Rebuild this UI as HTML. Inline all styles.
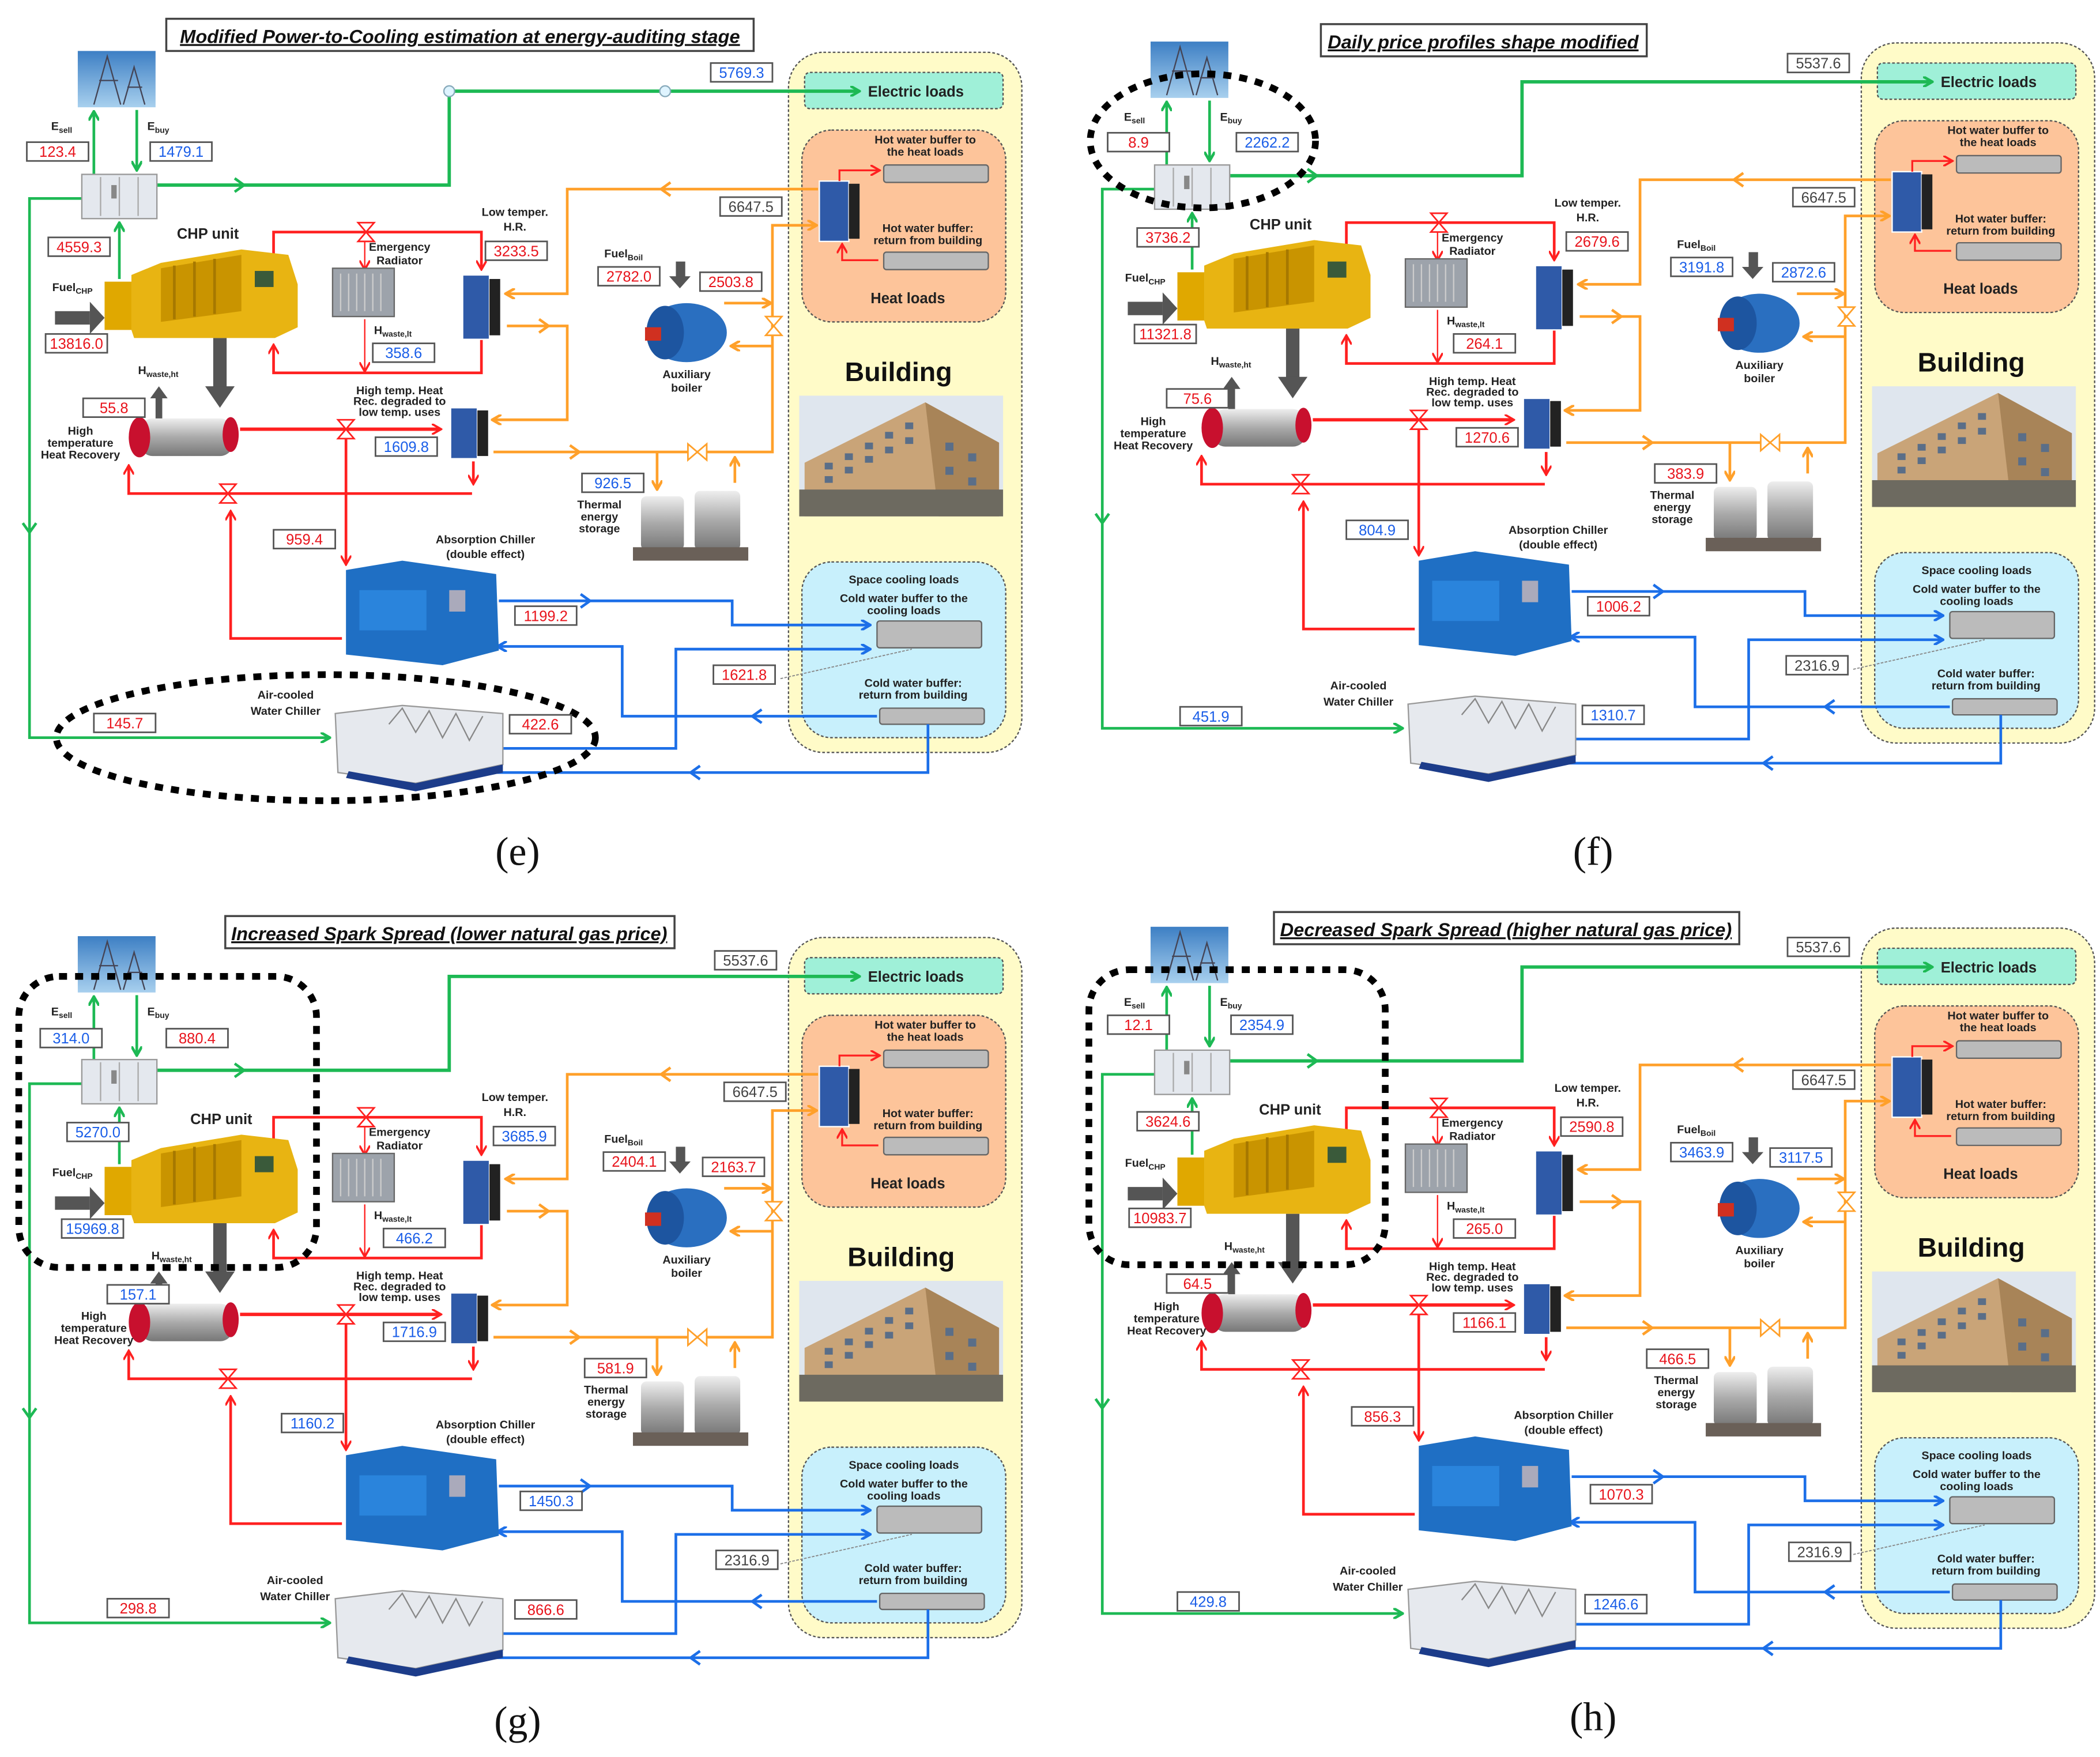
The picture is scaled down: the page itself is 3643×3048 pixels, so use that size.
<!DOCTYPE html>
<html><head><meta charset="utf-8"><style>
html,body{margin:0;padding:0;background:#fff}
svg{display:block}
text{font-family:"Liberation Sans",sans-serif}
.l{font-size:8.5px;font-weight:bold;fill:#222;text-anchor:middle}
.m{font-size:11px;font-weight:bold;fill:#222;text-anchor:middle}
.v{font-size:11px;text-anchor:middle}
.r{fill:#e8141c}.b{fill:#1a5ee8}.k{fill:#444}
.vb{fill:#fff;stroke:#555;stroke-width:1.2}
.t{font-size:14px;font-weight:bold;font-style:italic;text-decoration:underline;fill:#111;text-anchor:middle}
.cap{font-family:"Liberation Serif",serif;font-size:30px;text-anchor:middle;fill:#111}
</style></head><body>
<svg width="3643" height="3048" viewBox="0 0 1566 1310" preserveAspectRatio="none" xmlns="http://www.w3.org/2000/svg">
<defs>
<marker id="ag" markerWidth="8" markerHeight="8" refX="6" refY="4" orient="auto" markerUnits="userSpaceOnUse"><path d="M0,0 L7,4 L0,8" fill="none" stroke="#1db954" stroke-width="2"/></marker>
<marker id="ar" markerWidth="8" markerHeight="8" refX="6" refY="4" orient="auto" markerUnits="userSpaceOnUse"><path d="M0,0 L7,4 L0,8" fill="none" stroke="#ff2020" stroke-width="1.6"/></marker>
<marker id="ao" markerWidth="8" markerHeight="8" refX="6" refY="4" orient="auto" markerUnits="userSpaceOnUse"><path d="M0,0 L7,4 L0,8" fill="none" stroke="#ffa02a" stroke-width="2"/></marker>
<marker id="ab" markerWidth="8" markerHeight="8" refX="6" refY="4" orient="auto" markerUnits="userSpaceOnUse"><path d="M0,0 L7,4 L0,8" fill="none" stroke="#1c6fe8" stroke-width="2"/></marker>
<linearGradient id="sky" x1="0" y1="0" x2="0" y2="1"><stop offset="0" stop-color="#3d7fc4"/><stop offset="1" stop-color="#a8d0ee"/></linearGradient>
<linearGradient id="cyl" x1="0" y1="0" x2="0" y2="1"><stop offset="0" stop-color="#eee"/><stop offset="0.5" stop-color="#aaa"/><stop offset="1" stop-color="#777"/></linearGradient>
<g id="base">
 <!-- building container -->
 <rect x="588" y="39" width="174" height="522" rx="26" fill="#fffbc8" stroke="#555" stroke-width="1" stroke-dasharray="2,1.5"/>
 <rect x="600" y="54" width="148" height="27" rx="4" fill="#9ff0d8" stroke="#555" stroke-dasharray="2,1.5"/>
 <rect x="598" y="97" width="152" height="143" rx="22" fill="#fdc49a" stroke="#555" stroke-dasharray="2,1.5"/>
 <rect x="598" y="419" width="152" height="131" rx="22" fill="#c8f0fc" stroke="#555" stroke-dasharray="2,1.5"/>
 <rect x="659" y="123" width="78" height="13" rx="2" fill="#bbb" stroke="#666"/>
 <rect x="659" y="188" width="78" height="13" rx="2" fill="#bbb" stroke="#666"/>
 <rect x="654" y="463" width="78" height="20" rx="2" fill="#bbb" stroke="#666"/>
 <rect x="656" y="528" width="78" height="12" rx="2" fill="#bbb" stroke="#666"/>
 <!-- building photo -->
 <rect x="596" y="295" width="152" height="90" fill="#dfe6ee"/>
 <polygon points="600,345 690,300 745,330 745,385 600,385" fill="#c9a478"/>
 <polygon points="690,300 745,330 745,385 700,385" fill="#a88458"/>
 <rect x="596" y="365" width="152" height="20" fill="#6d6a60"/>
 <g fill="#5a6e88"><rect x="615" y="345" width="6" height="5"/><rect x="630" y="338" width="6" height="5"/><rect x="645" y="330" width="6" height="5"/><rect x="660" y="322" width="6" height="5"/><rect x="675" y="315" width="6" height="5"/><rect x="615" y="355" width="6" height="5"/><rect x="630" y="348" width="6" height="5"/><rect x="645" y="340" width="6" height="5"/><rect x="660" y="333" width="6" height="5"/><rect x="675" y="326" width="6" height="5"/><rect x="705" y="330" width="6" height="6"/><rect x="722" y="338" width="6" height="6"/><rect x="705" y="348" width="6" height="6"/><rect x="722" y="356" width="6" height="6"/></g>
 <!-- heat loads HX -->
 <rect x="611" y="135" width="22" height="45" fill="#2f5aa8" stroke="#fff"/><rect x="633" y="137" width="8" height="41" fill="#222"/>
 <path d="M626,135 V127 H655" fill="none" stroke="#ff2020" stroke-width="1.4" marker-end="url(#ar)"/>
 <path d="M655,194 H628 V183" fill="none" stroke="#ff2020" stroke-width="1.4" marker-end="url(#ar)"/>
 <!-- green -->
 <g fill="none" stroke="#1db954" stroke-width="2">
  <path d="M70,130 V84" marker-end="url(#ag)"/>
  <path d="M102,82 V126" marker-end="url(#ag)"/>
  <path d="M117,138 H335 V68 H640" stroke-width="2.5" marker-end="url(#ag)"/>
  <path d="M61,148 H22 V550 H245" marker-end="url(#ag)"/>
  <path d="M89,208 V167" marker-end="url(#ag)"/>
  <path d="M175,133 L182,138 L175,143"/><path d="M17,390 L22,397 L27,390"/>
 </g>
 <!-- pylon & cabinet -->
 <rect x="58" y="38" width="58" height="42" fill="url(#sky)"/>
 <path d="M70,78 L80,42 L90,78 M74,60 H88 M92,78 L100,50 L108,78 M95,65 H106" stroke="#445" stroke-width="1" fill="none"/>
 <rect x="61" y="130" width="56" height="33" fill="#e4e8ee" stroke="#999"/>
 <path d="M75,132 V161 M89,132 V161 M103,132 V161" stroke="#aaa"/>
 <rect x="83" y="138" width="4" height="10" fill="#888"/>
 <!-- red loops -->
 <g fill="none" stroke="#ff2020" stroke-width="2">
  <path d="M204,250 V173 H359 V200" marker-end="url(#ar)"/>
  <path d="M359,252 V278 H204 V258" marker-end="url(#ar)"/>
  <path d="M272,180 V200" stroke-width="1" marker-end="url(#ar)"/>
  <path d="M272,238 V276" stroke-width="1" marker-end="url(#ar)"/>
  <path d="M179,320 H328" stroke-width="2.5" marker-end="url(#ar)"/>
  <path d="M258,320 V420" marker-end="url(#ar)"/>
  <path d="M353,344 V360" marker-end="url(#ar)"/>
  <path d="M352,368 H96 V348" marker-end="url(#ar)"/>
  <path d="M255,476 H172 V382" marker-end="url(#ar)"/>
 </g>
 <!-- orange -->
 <g fill="none" stroke="#ffa02a" stroke-width="2">
  <path d="M610,141 H423 V219 H378" marker-end="url(#ao)"/>
  <path d="M378,243 H423 V313 H368" marker-end="url(#ao)"/>
  <path d="M368,337 H576 V168 H608" marker-end="url(#ao)"/>
  <path d="M490,337 V364" marker-end="url(#ao)"/>
  <path d="M548,360 V342" marker-end="url(#ao)"/>
  <path d="M540,226 H574" marker-end="url(#ao)"/>
  <path d="M576,258 H546" marker-end="url(#ao)"/>
  <path d="M500,136 L493,141 L500,146 M402,238 L409,243 L402,248 M425,332 L432,337 L425,342"/>
 </g>
 <!-- blue -->
 <g fill="none" stroke="#1c6fe8" stroke-width="2">
  <path d="M372,448 H546 V466 H648" marker-end="url(#ab)"/>
  <path d="M375,558 H504 V484 H648" marker-end="url(#ab)"/>
  <path d="M654,534 H464 V482 H372" marker-end="url(#ab)"/>
  <path d="M692,540 V576 H352"/>
  <path d="M433,443 L440,448 L433,453 M568,529 L561,534 L568,539 M522,571 L515,576 L522,581"/>
 </g>
 <path d="M582,506 L680,484" stroke="#888" stroke-width="0.8" stroke-dasharray="2,1"/>
 <!-- valves -->
 <g fill="#fff" stroke="#ff2020" stroke-width="1.2">
  <path d="M267,166 H279 L267,180 H279 Z"/><path d="M252,313 H264 L252,327 H264 Z"/><path d="M164,361 H176 L164,375 H176 Z"/>
 </g>
 <g fill="#fff" stroke="#ffa02a" stroke-width="1.2">
  <path d="M513,331 V343 L527,331 V343 Z"/><path d="M571,236 H583 L571,250 H583 Z"/>
 </g>
 <!-- grey arrows -->
 <g fill="#555">
  <rect x="41" y="232" width="26" height="10"/><polygon points="67,225 78,237 67,249"/>
  <rect x="159" y="252" width="10" height="38"/><polygon points="153,288 164,304 175,288"/>
  <rect x="504" y="195" width="7" height="12"/><polygon points="499,206 507,215 515,206"/>
  <rect x="116" y="296" width="5" height="16"/><polygon points="112,297 118.5,288 125,297"/>
 </g>
 <!-- CHP engine -->
 <rect x="78" y="210" width="20" height="36" fill="#e0a800"/>
 <path d="M98,246 V205 L120,196 L180,186 L215,190 L222,212 L222,244 L205,252 L100,252 Z" fill="#e8b412"/>
 <path d="M120,200 L180,190 L180,232 L120,240 Z" fill="#c99400"/>
 <rect x="190" y="202" width="14" height="12" fill="#3a5a3a"/>
 <path d="M130,198 V238 M145,195 V236 M160,193 V234" stroke="#a67800" stroke-width="2"/>
 <!-- radiator -->
 <rect x="248" y="200" width="46" height="36" fill="#9da3ab" stroke="#666"/>
 <path d="M254,204 V232 M260,204 V232 M266,204 V232 M272,204 V232 M278,204 V232 M284,204 V232" stroke="#ccc"/>
 <!-- HX upper / lower -->
 <rect x="345" y="205" width="20" height="48" fill="#2f5aa8" stroke="#fff"/><rect x="365" y="208" width="8" height="42" fill="#222"/>
 <rect x="336" y="304" width="20" height="38" fill="#2f5aa8" stroke="#fff"/><rect x="356" y="306" width="8" height="34" fill="#222"/>
 <!-- boiler -->
 <ellipse cx="512" cy="248" rx="30" ry="22" fill="#2a6fc0"/><ellipse cx="496" cy="248" rx="14" ry="20" fill="#1d55a0"/>
 <rect x="481" y="244" width="12" height="10" fill="#d03020"/>
 <!-- HT HR -->
 <rect x="104" y="312" width="70" height="28" rx="10" fill="url(#cyl)"/>
 <ellipse cx="104" cy="326" rx="8" ry="15" fill="#c8102e"/><ellipse cx="172" cy="324" rx="6" ry="13" fill="#c8102e"/>
 <!-- storage tanks -->
 <rect x="478" y="370" width="32" height="40" rx="4" fill="url(#cyl)"/><rect x="518" y="366" width="34" height="44" rx="4" fill="url(#cyl)"/>
 <rect x="472" y="408" width="86" height="10" fill="#6a6058"/>
 <!-- absorption chiller -->
 <path d="M258,425 L300,418 L370,428 L372,485 L330,496 L258,488 Z" fill="#1f6fc4"/>
 <rect x="268" y="440" width="50" height="30" fill="#2a84dc"/><rect x="335" y="440" width="12" height="16" fill="#aab"/>
 <!-- air chiller -->
 <path d="M250,532 L300,526 L375,532 L375,570 L310,584 L252,576 Z" fill="#e6e9ee" stroke="#999"/>
 <path d="M290,540 L300,528 L310,546 L320,530 L330,550 L340,532 L350,552 L360,534" stroke="#888" fill="none"/>
 <path d="M260,575 L310,584 L375,570 L375,576 L310,590 L258,580 Z" fill="#1c3c8a"/>
</g>
<g id="box"><rect width="46" height="14" class="vb"/></g>
</defs>

<!-- ========== PANEL E ========== -->
<g transform="translate(0,0)">
<use href="#base"/>
<circle cx="335" cy="68" r="4" fill="#dff4ff" stroke="#8ab"/><circle cx="496" cy="68" r="4" fill="#dff4ff" stroke="#8ab"/>
<rect x="124" y="14" width="438" height="24" fill="#fff" stroke="#444" stroke-width="1.5"/>
<text x="343" y="32" class="t">Modified Power-to-Cooling estimation at energy-auditing stage</text>
<ellipse cx="243" cy="550" rx="201" ry="47" fill="none" stroke="#000" stroke-width="5" stroke-dasharray="6,6"/>
<text class="l" x="46" y="97">E<tspan font-size="6" dy="2">sell</tspan></text><text class="l" x="118" y="97">E<tspan font-size="6" dy="2">buy</tspan></text>
<text class="m" x="155" y="178">CHP unit</text>
<text class="l" x="54" y="217" font-size="10">Fuel<tspan font-size="6" dy="2">CHP</tspan></text>
<text class="l" x="298" y="187">Emergency</text><text class="l" x="298" y="197">Radiator</text>
<text class="l" x="384" y="161">Low temper.</text><text class="l" x="384" y="172">H.R.</text>
<text class="l" x="293" y="249">H<tspan font-size="6" dy="2">waste,lt</tspan></text>
<text class="l" x="465" y="192" font-size="10">Fuel<tspan font-size="6" dy="2">Boil</tspan></text>
<text class="l" x="512" y="282">Auxiliary</text><text class="l" x="512" y="292">boiler</text>
<text class="l" x="298" y="294">High temp. Heat</text><text class="l" x="298" y="302">Rec. degraded to</text><text class="l" x="298" y="310">low temp. uses</text>
<text class="l" x="118" y="279">H<tspan font-size="6" dy="2">waste,ht</tspan></text>
<text class="l" x="60" y="324">High</text><text class="l" x="60" y="333">temperature</text><text class="l" x="60" y="342">Heat Recovery</text>
<text class="l" x="362" y="405" font-size="9.5">Absorption Chiller</text><text class="l" x="362" y="416">(double effect)</text>
<text class="l" x="447" y="379">Thermal</text><text class="l" x="447" y="388">energy</text><text class="l" x="447" y="397">storage</text>
<text class="l" x="213" y="521">Air-cooled</text><text class="l" x="213" y="533">Water Chiller</text>
<text class="m" x="683" y="72">Electric loads</text>
<text class="l" x="690" y="107">Hot water buffer to</text><text class="l" x="690" y="116">the heat loads</text>
<text class="l" x="692" y="173">Hot water buffer:</text><text class="l" x="692" y="182">return from building</text>
<text class="m" x="677" y="226">Heat loads</text>
<text x="670" y="284" font-size="20" font-weight="bold" text-anchor="middle" fill="#111">Building</text>
<text class="l" x="674" y="435" font-size="10">Space cooling loads</text>
<text class="l" x="674" y="449">Cold water buffer to the</text><text class="l" x="674" y="458">cooling loads</text>
<text class="l" x="681" y="512">Cold water buffer:</text><text class="l" x="681" y="521">return from building</text>
<use href="#box" x="20" y="106"/><text class="v r" x="43" y="117">123.4</text>
<use href="#box" x="112" y="106"/><text class="v b" x="135" y="117">1479.1</text>
<use href="#box" x="530" y="47"/><text class="v b" x="553" y="58">5769.3</text>
<use href="#box" x="36" y="177"/><text class="v r" x="59" y="188">4559.3</text>
<use href="#box" x="34" y="249"/><text class="v r" x="57" y="260">13816.0</text>
<use href="#box" x="362" y="180"/><text class="v r" x="385" y="191">3233.5</text>
<use href="#box" x="278" y="256"/><text class="v b" x="301" y="267">358.6</text>
<use href="#box" x="446" y="199"/><text class="v r" x="469" y="210">2782.0</text>
<use href="#box" x="522" y="203"/><text class="v r" x="545" y="214">2503.8</text>
<use href="#box" x="537" y="147"/><text class="v k" x="560" y="158">6647.5</text>
<use href="#box" x="62" y="297"/><text class="v r" x="85" y="308">55.8</text>
<use href="#box" x="280" y="326"/><text class="v b" x="303" y="337">1609.8</text>
<use href="#box" x="434" y="353"/><text class="v b" x="457" y="364">926.5</text>
<use href="#box" x="204" y="395"/><text class="v r" x="227" y="406">959.4</text>
<use href="#box" x="384" y="452"/><text class="v r" x="407" y="463">1199.2</text>
<use href="#box" x="532" y="496"/><text class="v r" x="555" y="507">1621.8</text>
<use href="#box" x="70" y="532"/><text class="v r" x="93" y="543">145.7</text>
<use href="#box" x="380" y="533"/><text class="v r" x="403" y="544">422.6</text>
</g>
<text class="cap" x="386" y="645">(e)</text>

<!-- ========== PANEL F ========== -->
<g transform="translate(800,-7)">
<use href="#base"/>
<rect x="185" y="25" width="243" height="24" fill="#fff" stroke="#444" stroke-width="1.5"/>
<text x="306" y="43" class="t">Daily price profiles shape modified</text>
<ellipse cx="97" cy="112" rx="84" ry="50" fill="none" stroke="#000" stroke-width="5" stroke-dasharray="6,6"/>
<text class="l" x="46" y="97">E<tspan font-size="6" dy="2">sell</tspan></text><text class="l" x="118" y="97">E<tspan font-size="6" dy="2">buy</tspan></text>
<text class="m" x="155" y="178">CHP unit</text>
<text class="l" x="54" y="217" font-size="10">Fuel<tspan font-size="6" dy="2">CHP</tspan></text>
<text class="l" x="298" y="187">Emergency</text><text class="l" x="298" y="197">Radiator</text>
<text class="l" x="384" y="161">Low temper.</text><text class="l" x="384" y="172">H.R.</text>
<text class="l" x="293" y="249">H<tspan font-size="6" dy="2">waste,lt</tspan></text>
<text class="l" x="465" y="192" font-size="10">Fuel<tspan font-size="6" dy="2">Boil</tspan></text>
<text class="l" x="512" y="282">Auxiliary</text><text class="l" x="512" y="292">boiler</text>
<text class="l" x="298" y="294">High temp. Heat</text><text class="l" x="298" y="302">Rec. degraded to</text><text class="l" x="298" y="310">low temp. uses</text>
<text class="l" x="118" y="279">H<tspan font-size="6" dy="2">waste,ht</tspan></text>
<text class="l" x="60" y="324">High</text><text class="l" x="60" y="333">temperature</text><text class="l" x="60" y="342">Heat Recovery</text>
<text class="l" x="362" y="405" font-size="9.5">Absorption Chiller</text><text class="l" x="362" y="416">(double effect)</text>
<text class="l" x="447" y="379">Thermal</text><text class="l" x="447" y="388">energy</text><text class="l" x="447" y="397">storage</text>
<text class="l" x="213" y="521">Air-cooled</text><text class="l" x="213" y="533">Water Chiller</text>
<text class="m" x="683" y="72">Electric loads</text>
<text class="l" x="690" y="107">Hot water buffer to</text><text class="l" x="690" y="116">the heat loads</text>
<text class="l" x="692" y="173">Hot water buffer:</text><text class="l" x="692" y="182">return from building</text>
<text class="m" x="677" y="226">Heat loads</text>
<text x="670" y="284" font-size="20" font-weight="bold" text-anchor="middle" fill="#111">Building</text>
<text class="l" x="674" y="435" font-size="10">Space cooling loads</text>
<text class="l" x="674" y="449">Cold water buffer to the</text><text class="l" x="674" y="458">cooling loads</text>
<text class="l" x="681" y="512">Cold water buffer:</text><text class="l" x="681" y="521">return from building</text>
<use href="#box" x="26" y="106"/><text class="v r" x="49" y="117">8.9</text>
<use href="#box" x="122" y="106"/><text class="v b" x="145" y="117">2262.2</text>
<use href="#box" x="533" y="47"/><text class="v k" x="556" y="58">5537.6</text>
<use href="#box" x="48" y="177"/><text class="v r" x="71" y="188">3736.2</text>
<use href="#box" x="46" y="249"/><text class="v r" x="69" y="260">11321.8</text>
<use href="#box" x="368" y="180"/><text class="v r" x="391" y="191">2679.6</text>
<use href="#box" x="284" y="256"/><text class="v r" x="307" y="267">264.1</text>
<use href="#box" x="446" y="199"/><text class="v b" x="469" y="210">3191.8</text>
<use href="#box" x="522" y="203"/><text class="v b" x="545" y="214">2872.6</text>
<use href="#box" x="537" y="147"/><text class="v k" x="560" y="158">6647.5</text>
<use href="#box" x="70" y="297"/><text class="v r" x="93" y="308">75.6</text>
<use href="#box" x="286" y="326"/><text class="v r" x="309" y="337">1270.6</text>
<use href="#box" x="434" y="353"/><text class="v r" x="457" y="364">383.9</text>
<use href="#box" x="204" y="395"/><text class="v b" x="227" y="406">804.9</text>
<use href="#box" x="384" y="452"/><text class="v r" x="407" y="463">1006.2</text>
<use href="#box" x="532" y="496"/><text class="v k" x="555" y="507">2316.9</text>
<use href="#box" x="80" y="534"/><text class="v b" x="103" y="545">451.9</text>
<use href="#box" x="380" y="533"/><text class="v b" x="403" y="544">1310.7</text>
</g>
<text class="cap" x="1188" y="645">(f)</text>

<!-- ========== PANEL G ========== -->
<g transform="translate(0,660)">
<use href="#base"/>
<rect x="168" y="23" width="335" height="24" fill="#fff" stroke="#444" stroke-width="1.5"/>
<text x="335" y="41" class="t">Increased Spark Spread (lower natural gas price)</text>
<rect x="14" y="68" width="222" height="217" rx="30" fill="none" stroke="#000" stroke-width="5" stroke-dasharray="6,6"/>
<text class="l" x="46" y="97">E<tspan font-size="6" dy="2">sell</tspan></text><text class="l" x="118" y="97">E<tspan font-size="6" dy="2">buy</tspan></text>
<text class="m" x="165" y="178">CHP unit</text>
<text class="l" x="54" y="217" font-size="10">Fuel<tspan font-size="6" dy="2">CHP</tspan></text>
<text class="l" x="298" y="187">Emergency</text><text class="l" x="298" y="197">Radiator</text>
<text class="l" x="384" y="161">Low temper.</text><text class="l" x="384" y="172">H.R.</text>
<text class="l" x="293" y="249">H<tspan font-size="6" dy="2">waste,lt</tspan></text>
<text class="l" x="465" y="192" font-size="10">Fuel<tspan font-size="6" dy="2">Boil</tspan></text>
<text class="l" x="512" y="282">Auxiliary</text><text class="l" x="512" y="292">boiler</text>
<text class="l" x="298" y="294">High temp. Heat</text><text class="l" x="298" y="302">Rec. degraded to</text><text class="l" x="298" y="310">low temp. uses</text>
<text class="l" x="128" y="279">H<tspan font-size="6" dy="2">waste,ht</tspan></text>
<text class="l" x="70" y="324">High</text><text class="l" x="70" y="333">temperature</text><text class="l" x="70" y="342">Heat Recovery</text>
<text class="l" x="362" y="405" font-size="9.5">Absorption Chiller</text><text class="l" x="362" y="416">(double effect)</text>
<text class="l" x="452" y="379">Thermal</text><text class="l" x="452" y="388">energy</text><text class="l" x="452" y="397">storage</text>
<text class="l" x="220" y="521">Air-cooled</text><text class="l" x="220" y="533">Water Chiller</text>
<text class="m" x="683" y="72">Electric loads</text>
<text class="l" x="690" y="107">Hot water buffer to</text><text class="l" x="690" y="116">the heat loads</text>
<text class="l" x="692" y="173">Hot water buffer:</text><text class="l" x="692" y="182">return from building</text>
<text class="m" x="677" y="226">Heat loads</text>
<text x="672" y="284" font-size="20" font-weight="bold" text-anchor="middle" fill="#111">Building</text>
<text class="l" x="674" y="435" font-size="10">Space cooling loads</text>
<text class="l" x="674" y="449">Cold water buffer to the</text><text class="l" x="674" y="458">cooling loads</text>
<text class="l" x="681" y="512">Cold water buffer:</text><text class="l" x="681" y="521">return from building</text>
<use href="#box" x="30" y="107"/><text class="v b" x="53" y="118">314.0</text>
<use href="#box" x="124" y="107"/><text class="v r" x="147" y="118">880.4</text>
<use href="#box" x="533" y="49"/><text class="v k" x="556" y="60">5537.6</text>
<use href="#box" x="50" y="177"/><text class="v b" x="73" y="188">5270.0</text>
<use href="#box" x="46" y="249"/><text class="v b" x="69" y="260">15969.8</text>
<use href="#box" x="368" y="180"/><text class="v b" x="391" y="191">3685.9</text>
<use href="#box" x="286" y="256"/><text class="v b" x="309" y="267">466.2</text>
<use href="#box" x="450" y="199"/><text class="v r" x="473" y="210">2404.1</text>
<use href="#box" x="524" y="203"/><text class="v r" x="547" y="214">2163.7</text>
<use href="#box" x="540" y="147"/><text class="v k" x="563" y="158">6647.5</text>
<use href="#box" x="80" y="298"/><text class="v b" x="103" y="309">157.1</text>
<use href="#box" x="286" y="326"/><text class="v b" x="309" y="337">1716.9</text>
<use href="#box" x="436" y="353"/><text class="v r" x="459" y="364">581.9</text>
<use href="#box" x="210" y="394"/><text class="v b" x="233" y="405">1160.2</text>
<use href="#box" x="388" y="452"/><text class="v b" x="411" y="463">1450.3</text>
<use href="#box" x="534" y="496"/><text class="v k" x="557" y="507">2316.9</text>
<use href="#box" x="80" y="532"/><text class="v r" x="103" y="543">298.8</text>
<use href="#box" x="384" y="533"/><text class="v r" x="407" y="544">866.6</text>
</g>
<text class="cap" x="386" y="1293">(g)</text>

<!-- ========== PANEL H ========== -->
<g transform="translate(800,653)">
<use href="#base"/>
<rect x="150" y="27" width="347" height="24" fill="#fff" stroke="#444" stroke-width="1.5"/>
<text x="323" y="45" class="t">Decreased Spark Spread (higher natural gas price)</text>
<rect x="12" y="70" width="221" height="220" rx="30" fill="none" stroke="#000" stroke-width="5" stroke-dasharray="6,6"/>
<text class="l" x="46" y="97">E<tspan font-size="6" dy="2">sell</tspan></text><text class="l" x="118" y="97">E<tspan font-size="6" dy="2">buy</tspan></text>
<text class="m" x="162" y="178">CHP unit</text>
<text class="l" x="54" y="217" font-size="10">Fuel<tspan font-size="6" dy="2">CHP</tspan></text>
<text class="l" x="298" y="187">Emergency</text><text class="l" x="298" y="197">Radiator</text>
<text class="l" x="384" y="161">Low temper.</text><text class="l" x="384" y="172">H.R.</text>
<text class="l" x="293" y="249">H<tspan font-size="6" dy="2">waste,lt</tspan></text>
<text class="l" x="465" y="192" font-size="10">Fuel<tspan font-size="6" dy="2">Boil</tspan></text>
<text class="l" x="512" y="282">Auxiliary</text><text class="l" x="512" y="292">boiler</text>
<text class="l" x="298" y="294">High temp. Heat</text><text class="l" x="298" y="302">Rec. degraded to</text><text class="l" x="298" y="310">low temp. uses</text>
<text class="l" x="128" y="279">H<tspan font-size="6" dy="2">waste,ht</tspan></text>
<text class="l" x="70" y="324">High</text><text class="l" x="70" y="333">temperature</text><text class="l" x="70" y="342">Heat Recovery</text>
<text class="l" x="366" y="405" font-size="9.5">Absorption Chiller</text><text class="l" x="366" y="416">(double effect)</text>
<text class="l" x="450" y="379">Thermal</text><text class="l" x="450" y="388">energy</text><text class="l" x="450" y="397">storage</text>
<text class="l" x="220" y="521">Air-cooled</text><text class="l" x="220" y="533">Water Chiller</text>
<text class="m" x="683" y="72">Electric loads</text>
<text class="l" x="690" y="107">Hot water buffer to</text><text class="l" x="690" y="116">the heat loads</text>
<text class="l" x="692" y="173">Hot water buffer:</text><text class="l" x="692" y="182">return from building</text>
<text class="m" x="677" y="226">Heat loads</text>
<text x="670" y="284" font-size="20" font-weight="bold" text-anchor="middle" fill="#111">Building</text>
<text class="l" x="674" y="435" font-size="10">Space cooling loads</text>
<text class="l" x="674" y="449">Cold water buffer to the</text><text class="l" x="674" y="458">cooling loads</text>
<text class="l" x="681" y="512">Cold water buffer:</text><text class="l" x="681" y="521">return from building</text>
<use href="#box" x="26" y="104"/><text class="v r" x="49" y="115">12.1</text>
<use href="#box" x="118" y="104"/><text class="v b" x="141" y="115">2354.9</text>
<use href="#box" x="533" y="46"/><text class="v k" x="556" y="57">5537.6</text>
<use href="#box" x="48" y="176"/><text class="v r" x="71" y="187">3624.6</text>
<use href="#box" x="42" y="248"/><text class="v r" x="65" y="259">10983.7</text>
<use href="#box" x="364" y="180"/><text class="v r" x="387" y="191">2590.8</text>
<use href="#box" x="284" y="256"/><text class="v r" x="307" y="267">265.0</text>
<use href="#box" x="446" y="199"/><text class="v b" x="469" y="210">3463.9</text>
<use href="#box" x="520" y="203"/><text class="v b" x="543" y="214">3117.5</text>
<use href="#box" x="537" y="145"/><text class="v k" x="560" y="156">6647.5</text>
<use href="#box" x="70" y="297"/><text class="v r" x="93" y="308">64.5</text>
<use href="#box" x="284" y="326"/><text class="v r" x="307" y="337">1166.1</text>
<use href="#box" x="428" y="353"/><text class="v r" x="451" y="364">466.5</text>
<use href="#box" x="208" y="396"/><text class="v r" x="231" y="407">856.3</text>
<use href="#box" x="386" y="454"/><text class="v r" x="409" y="465">1070.3</text>
<use href="#box" x="534" y="497"/><text class="v k" x="557" y="508">2316.9</text>
<use href="#box" x="78" y="534"/><text class="v b" x="101" y="545">429.8</text>
<use href="#box" x="382" y="536"/><text class="v b" x="405" y="547">1246.6</text>
</g>
<text class="cap" x="1188" y="1290">(h)</text>
</svg>
</body></html>
